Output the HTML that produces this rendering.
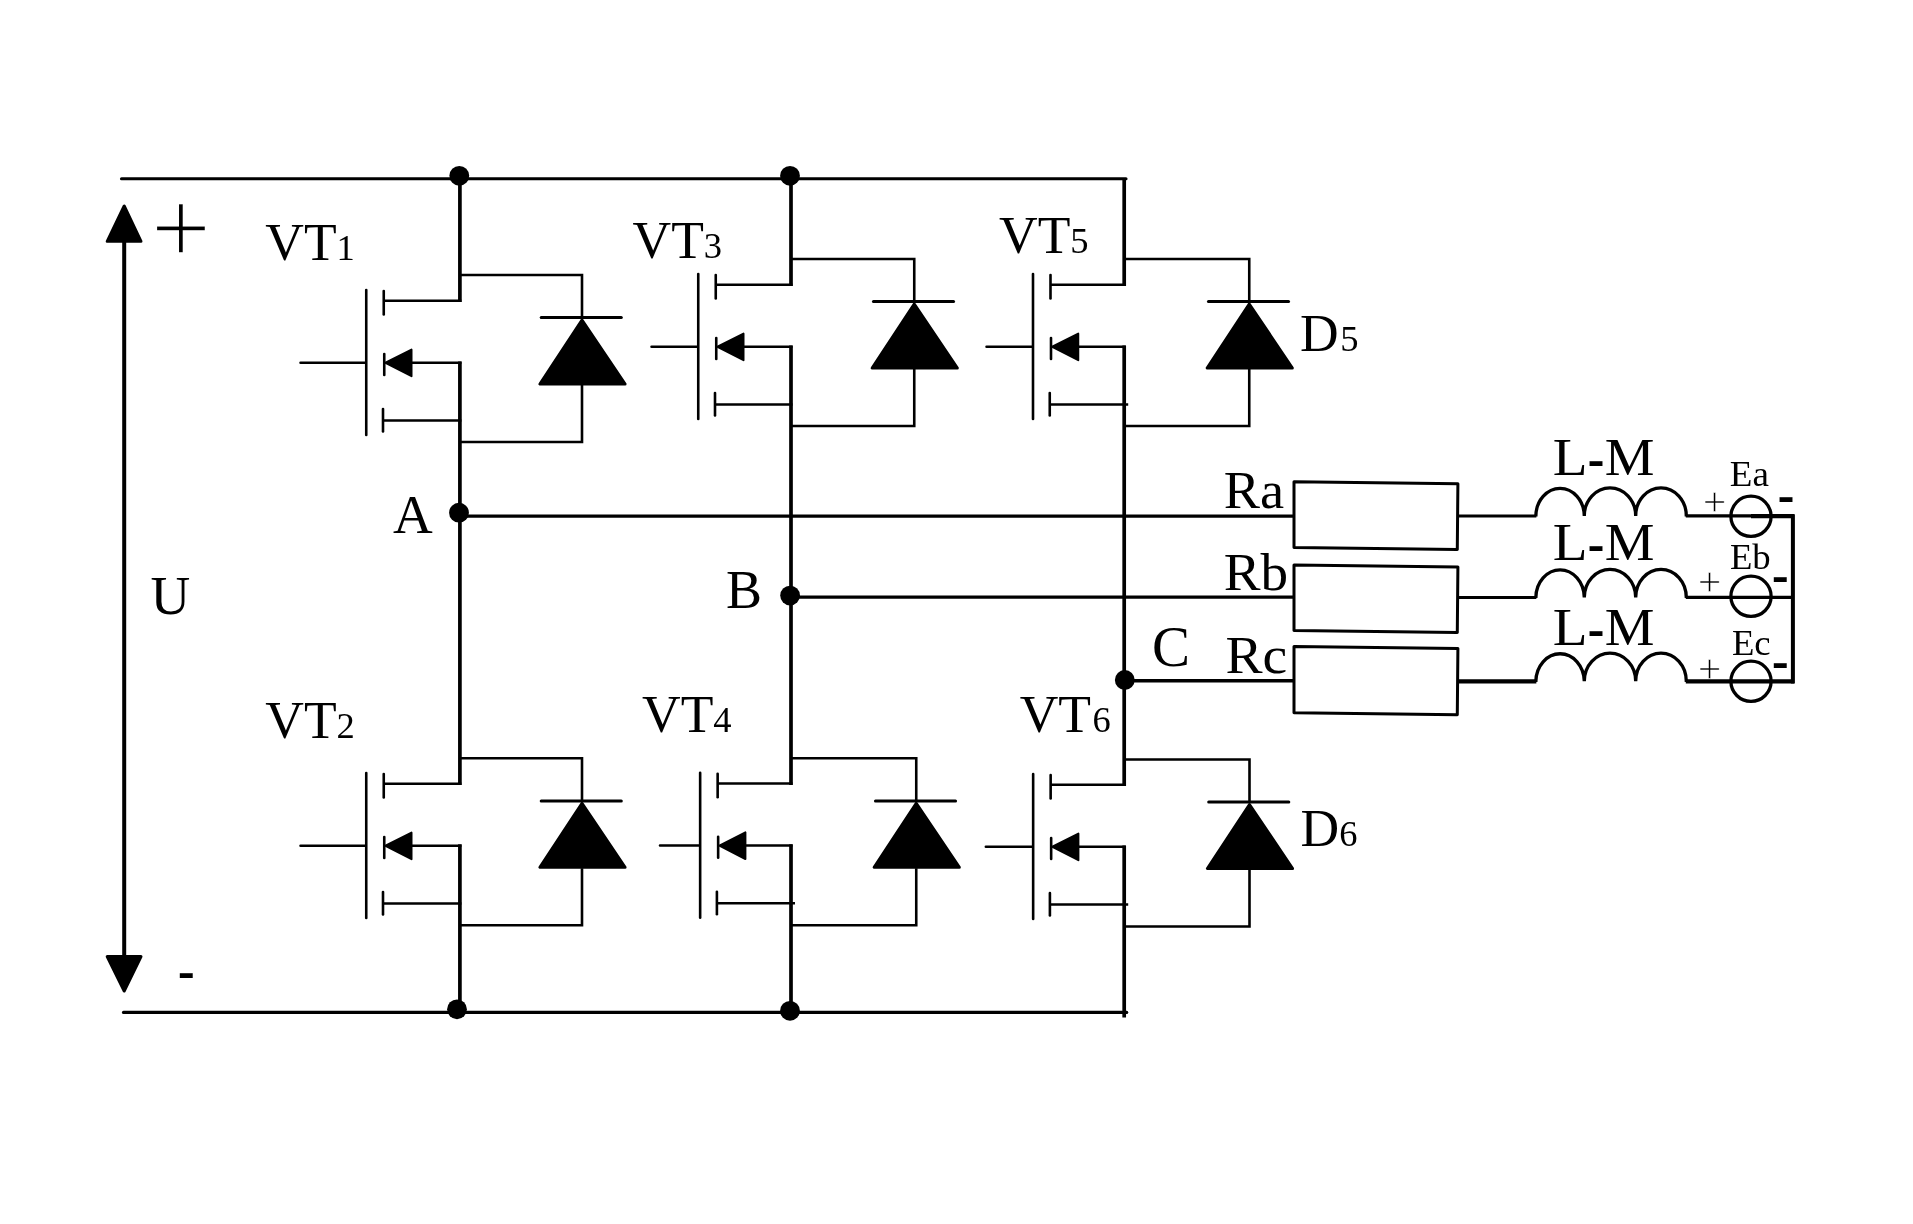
<!DOCTYPE html>
<html lang="en">
<head>
<meta charset="utf-8">
<title>Three-phase inverter circuit</title>
<style>
html,body{margin:0;padding:0;background:#fff;}
body{width:1913px;height:1224px;overflow:hidden;}
svg{display:block;will-change:transform;}
</style>
</head>
<body>
<svg width="1913" height="1224" viewBox="0 0 1913 1224">
<rect width="1913" height="1224" fill="#fff"/>
<g stroke="#000" fill="none">
<g transform="translate(0,0)">
<line x1="366.25" y1="290" x2="366.25" y2="435" stroke-width="2.6" stroke-linecap="round"/>
<line x1="300.5" y1="362.75" x2="365.5" y2="362.75" stroke-width="2.5" stroke-linecap="round"/>
<line x1="383.75" y1="291" x2="383.75" y2="314.5" stroke-width="2.6" stroke-linecap="round"/>
<line x1="383.75" y1="300.75" x2="461.4" y2="300.75" stroke-width="2.6" stroke-linecap="butt"/>
<line x1="384.25" y1="354" x2="384.25" y2="375" stroke-width="2.6" stroke-linecap="round"/>
<path d="M385.5 362.75 L411.5 349.6 L411.5 376.2 Z" fill="#000" stroke="#000" stroke-width="2" stroke-linejoin="round"/>
<line x1="411" y1="362.75" x2="461.4" y2="362.75" stroke-width="2.6" stroke-linecap="butt"/>
<line x1="383" y1="409" x2="383" y2="431.5" stroke-width="2.6" stroke-linecap="round"/>
<line x1="383" y1="420.5" x2="461.4" y2="420.5" stroke-width="2.5" stroke-linecap="butt"/>
</g>
<g transform="translate(0,0)">
<path d="M459.9 275 H582 V318 M582 385 V442 H459.9" fill="none" stroke-width="2.6" stroke-linejoin="miter"/>
<line x1="541.2" y1="317.6" x2="621.3" y2="317.6" stroke-width="3" stroke-linecap="round"/>
<path d="M582 320 L539.9 384 L625.1 384 Z" fill="#000" stroke="#000" stroke-width="3" stroke-linejoin="round"/>
</g>
<g transform="translate(332,-16)">
<line x1="366.25" y1="290" x2="366.25" y2="435" stroke-width="2.6" stroke-linecap="round"/>
<line x1="319.5" y1="362.75" x2="365.5" y2="362.75" stroke-width="2.5" stroke-linecap="round"/>
<line x1="383.75" y1="291" x2="383.75" y2="314.5" stroke-width="2.6" stroke-linecap="round"/>
<line x1="383.75" y1="300.75" x2="460.5" y2="300.75" stroke-width="2.6" stroke-linecap="butt"/>
<line x1="384.25" y1="354" x2="384.25" y2="375" stroke-width="2.6" stroke-linecap="round"/>
<path d="M385.5 362.75 L411.5 349.6 L411.5 376.2 Z" fill="#000" stroke="#000" stroke-width="2" stroke-linejoin="round"/>
<line x1="411" y1="362.75" x2="460.5" y2="362.75" stroke-width="2.6" stroke-linecap="butt"/>
<line x1="383" y1="409" x2="383" y2="431.5" stroke-width="2.6" stroke-linecap="round"/>
<line x1="383" y1="420.5" x2="460.5" y2="420.5" stroke-width="2.5" stroke-linecap="butt"/>
</g>
<g transform="translate(332.25,-16)">
<path d="M458.75 275 H582 V318 M582 385 V442 H458.75" fill="none" stroke-width="2.6" stroke-linejoin="miter"/>
<line x1="541.2" y1="317.6" x2="621.3" y2="317.6" stroke-width="3" stroke-linecap="round"/>
<path d="M582 320 L539.9 384 L625.1 384 Z" fill="#000" stroke="#000" stroke-width="3" stroke-linejoin="round"/>
</g>
<g transform="translate(666.75,-16)">
<line x1="366.25" y1="290" x2="366.25" y2="435" stroke-width="2.6" stroke-linecap="round"/>
<line x1="319.75" y1="362.75" x2="365.5" y2="362.75" stroke-width="2.5" stroke-linecap="round"/>
<line x1="383.75" y1="291" x2="383.75" y2="314.5" stroke-width="2.6" stroke-linecap="round"/>
<line x1="383.75" y1="300.75" x2="458.95000000000005" y2="300.75" stroke-width="2.6" stroke-linecap="butt"/>
<line x1="384.25" y1="354" x2="384.25" y2="375" stroke-width="2.6" stroke-linecap="round"/>
<path d="M385.5 362.75 L411.5 349.6 L411.5 376.2 Z" fill="#000" stroke="#000" stroke-width="2" stroke-linejoin="round"/>
<line x1="411" y1="362.75" x2="458.95000000000005" y2="362.75" stroke-width="2.6" stroke-linecap="butt"/>
<line x1="383" y1="409" x2="383" y2="431.5" stroke-width="2.6" stroke-linecap="round"/>
<line x1="383" y1="420.5" x2="461.45000000000005" y2="420.5" stroke-width="2.5" stroke-linecap="butt"/>
</g>
<g transform="translate(667.25,-16)">
<path d="M456.95000000000005 275 H582 V318 M582 385 V442 H456.95000000000005" fill="none" stroke-width="2.6" stroke-linejoin="miter"/>
<line x1="541.2" y1="317.6" x2="621.3" y2="317.6" stroke-width="3" stroke-linecap="round"/>
<path d="M582 320 L539.9 384 L625.1 384 Z" fill="#000" stroke="#000" stroke-width="3" stroke-linejoin="round"/>
</g>
<g transform="translate(0,483)">
<line x1="366.25" y1="290" x2="366.25" y2="435" stroke-width="2.6" stroke-linecap="round"/>
<line x1="300.5" y1="362.75" x2="365.5" y2="362.75" stroke-width="2.5" stroke-linecap="round"/>
<line x1="383.75" y1="291" x2="383.75" y2="314.5" stroke-width="2.6" stroke-linecap="round"/>
<line x1="383.75" y1="300.75" x2="461.4" y2="300.75" stroke-width="2.6" stroke-linecap="butt"/>
<line x1="384.25" y1="354" x2="384.25" y2="375" stroke-width="2.6" stroke-linecap="round"/>
<path d="M385.5 362.75 L411.5 349.6 L411.5 376.2 Z" fill="#000" stroke="#000" stroke-width="2" stroke-linejoin="round"/>
<line x1="411" y1="362.75" x2="461.4" y2="362.75" stroke-width="2.6" stroke-linecap="butt"/>
<line x1="383" y1="409" x2="383" y2="431.5" stroke-width="2.6" stroke-linecap="round"/>
<line x1="383" y1="420.5" x2="461.4" y2="420.5" stroke-width="2.5" stroke-linecap="butt"/>
</g>
<g transform="translate(0,483.3)">
<path d="M459.9 275 H582 V318 M582 385 V442 H459.9" fill="none" stroke-width="2.6" stroke-linejoin="miter"/>
<line x1="541.2" y1="317.6" x2="621.3" y2="317.6" stroke-width="3" stroke-linecap="round"/>
<path d="M582 320 L539.9 384 L625.1 384 Z" fill="#000" stroke="#000" stroke-width="3" stroke-linejoin="round"/>
</g>
<g transform="translate(333.9,482.8)">
<line x1="366.25" y1="290" x2="366.25" y2="435" stroke-width="2.6" stroke-linecap="round"/>
<line x1="326.1" y1="362.75" x2="365.5" y2="362.75" stroke-width="2.5" stroke-linecap="round"/>
<line x1="383.75" y1="291" x2="383.75" y2="314.5" stroke-width="2.6" stroke-linecap="round"/>
<line x1="383.75" y1="300.75" x2="458.6" y2="300.75" stroke-width="2.6" stroke-linecap="butt"/>
<line x1="384.25" y1="354" x2="384.25" y2="375" stroke-width="2.6" stroke-linecap="round"/>
<path d="M385.5 362.75 L411.5 349.6 L411.5 376.2 Z" fill="#000" stroke="#000" stroke-width="2" stroke-linejoin="round"/>
<line x1="411" y1="362.75" x2="458.6" y2="362.75" stroke-width="2.6" stroke-linecap="butt"/>
<line x1="383" y1="409" x2="383" y2="431.5" stroke-width="2.6" stroke-linecap="round"/>
<line x1="383" y1="420.5" x2="461.1" y2="420.5" stroke-width="2.5" stroke-linecap="butt"/>
</g>
<g transform="translate(334.25,483.3)">
<path d="M456.75 275 H582 V318 M582 385 V442 H456.75" fill="none" stroke-width="2.6" stroke-linejoin="miter"/>
<line x1="541.2" y1="317.6" x2="621.3" y2="317.6" stroke-width="3" stroke-linecap="round"/>
<path d="M582 320 L539.9 384 L625.1 384 Z" fill="#000" stroke="#000" stroke-width="3" stroke-linejoin="round"/>
</g>
<g transform="translate(666.9,484)">
<line x1="366.25" y1="290" x2="366.25" y2="435" stroke-width="2.6" stroke-linecap="round"/>
<line x1="318.9" y1="362.75" x2="365.5" y2="362.75" stroke-width="2.5" stroke-linecap="round"/>
<line x1="383.75" y1="291" x2="383.75" y2="314.5" stroke-width="2.6" stroke-linecap="round"/>
<line x1="383.75" y1="300.75" x2="458.80000000000007" y2="300.75" stroke-width="2.6" stroke-linecap="butt"/>
<line x1="384.25" y1="354" x2="384.25" y2="375" stroke-width="2.6" stroke-linecap="round"/>
<path d="M385.5 362.75 L411.5 349.6 L411.5 376.2 Z" fill="#000" stroke="#000" stroke-width="2" stroke-linejoin="round"/>
<line x1="411" y1="362.75" x2="458.80000000000007" y2="362.75" stroke-width="2.6" stroke-linecap="butt"/>
<line x1="383" y1="409" x2="383" y2="431.5" stroke-width="2.6" stroke-linecap="round"/>
<line x1="383" y1="420.5" x2="461.30000000000007" y2="420.5" stroke-width="2.5" stroke-linecap="butt"/>
</g>
<g transform="translate(667.5,484.5)">
<path d="M456.70000000000005 275 H582 V318 M582 385 V442 H456.70000000000005" fill="none" stroke-width="2.6" stroke-linejoin="miter"/>
<line x1="541.2" y1="317.6" x2="621.3" y2="317.6" stroke-width="3" stroke-linecap="round"/>
<path d="M582 320 L539.9 384 L625.1 384 Z" fill="#000" stroke="#000" stroke-width="3" stroke-linejoin="round"/>
</g>
<line x1="121.5" y1="178.7" x2="1126" y2="178.7" stroke-width="3.1" stroke-linecap="round"/>
<line x1="123.5" y1="1012.4" x2="1126.7" y2="1012.4" stroke-width="3.2" stroke-linecap="round"/>
<line x1="459.9" y1="176" x2="459.9" y2="302" stroke-width="3.7" stroke-linecap="butt"/>
<line x1="459.9" y1="361.5" x2="459.9" y2="785" stroke-width="3.7" stroke-linecap="butt"/>
<line x1="459.9" y1="844.3" x2="459.9" y2="1010" stroke-width="3.7" stroke-linecap="butt"/>
<line x1="791.0" y1="176" x2="791.0" y2="286" stroke-width="3.7" stroke-linecap="butt"/>
<line x1="791.0" y1="345.5" x2="791.0" y2="785" stroke-width="3.7" stroke-linecap="butt"/>
<line x1="791.0" y1="844.3" x2="791.0" y2="1011" stroke-width="3.7" stroke-linecap="butt"/>
<line x1="1124.2" y1="178" x2="1124.2" y2="286" stroke-width="3.7" stroke-linecap="butt"/>
<line x1="1124.2" y1="345.5" x2="1124.2" y2="786" stroke-width="3.7" stroke-linecap="butt"/>
<line x1="1124.2" y1="845.5" x2="1124.2" y2="1017.5" stroke-width="3.7" stroke-linecap="butt"/>
<line x1="459" y1="516.1" x2="1294" y2="516.1" stroke-width="3.4" stroke-linecap="butt"/>
<line x1="790" y1="597.1" x2="1294" y2="597.1" stroke-width="3.3" stroke-linecap="butt"/>
<line x1="1124" y1="680.7" x2="1294" y2="680.7" stroke-width="3.4" stroke-linecap="butt"/>
<path d="M1294.0 481.8 L1457.9 483.8 L1457.3000000000002 549.4 L1294.0 547.4 Z" stroke-width="3" stroke-linejoin="round"/>
<path d="M1294.0 565.0 L1457.9 567.0 L1457.3000000000002 632.5 L1294.0 630.5 Z" stroke-width="3" stroke-linejoin="round"/>
<path d="M1294.0 646.6 L1457.9 648.6 L1457.3000000000002 714.8000000000001 L1294.0 712.8000000000001 Z" stroke-width="3" stroke-linejoin="round"/>
<line x1="1458" y1="515.9" x2="1536.35" y2="515.9" stroke-width="3" stroke-linecap="butt"/>
<path d="M1535.85 516.5 V515.9 a24.23 28.1 0 0 1 48.45 0 a25.70 28.1 0 0 1 51.40 0 a25.30 28.1 0 0 1 50.60 0 v0.6" stroke-width="3.3" stroke-linejoin="miter" stroke-miterlimit="10"/>
<line x1="1685.8" y1="515.9" x2="1794" y2="515.9" stroke-width="3.3" stroke-linecap="butt"/>
<line x1="1751" y1="516.1" x2="1794" y2="516.1" stroke-width="4.2" stroke-linecap="butt"/>
<line x1="1458" y1="597.4" x2="1536.35" y2="597.4" stroke-width="3" stroke-linecap="butt"/>
<path d="M1535.85 598.0 V597.4 a24.23 28.1 0 0 1 48.45 0 a25.70 28.1 0 0 1 51.40 0 a25.30 28.1 0 0 1 50.60 0 v0.6" stroke-width="3.3" stroke-linejoin="miter" stroke-miterlimit="10"/>
<line x1="1685.8" y1="597.4" x2="1794" y2="597.4" stroke-width="3.1" stroke-linecap="butt"/>
<line x1="1458" y1="681.3" x2="1536.35" y2="681.3" stroke-width="4.2" stroke-linecap="butt"/>
<path d="M1535.85 681.9 V681.3 a24.23 28.1 0 0 1 48.45 0 a25.70 28.1 0 0 1 51.40 0 a25.30 28.1 0 0 1 50.60 0 v0.6" stroke-width="3.3" stroke-linejoin="miter" stroke-miterlimit="10"/>
<line x1="1685.8" y1="681.3" x2="1794" y2="681.3" stroke-width="4.2" stroke-linecap="butt"/>
<circle cx="1751" cy="516.3" r="20.1" stroke-width="3.3"/>
<circle cx="1751" cy="596.3" r="20.1" stroke-width="3.3"/>
<circle cx="1751" cy="681.3" r="20.1" stroke-width="3.3"/>
<line x1="1792.9" y1="514.3" x2="1792.9" y2="683.4" stroke-width="4" stroke-linecap="butt"/>
<line x1="124.2" y1="240" x2="124.2" y2="958" stroke-width="4" stroke-linecap="butt"/>
<path d="M124.2 206 L107.2 241.3 L141 241.3 Z" fill="#000" stroke-width="3" stroke-linejoin="round"/>
<path d="M124.2 991 L107.2 956.5 L141 956.5 Z" fill="#000" stroke-width="3" stroke-linejoin="round"/>
</g>
<g fill="#000">
<circle cx="459.3" cy="175.8" r="9.9"/>
<circle cx="790" cy="175.8" r="9.9"/>
<circle cx="459.0" cy="512.65" r="9.9"/>
<circle cx="790.1" cy="595.6" r="9.9"/>
<circle cx="1124.8" cy="680" r="9.9"/>
<circle cx="457" cy="1009.3" r="9.9"/>
<circle cx="790" cy="1010.8" r="9.9"/>
</g>
<g fill="#000">
<text x="265.25" y="259.70" style="font-family:'Liberation Serif',serif;font-size:53.5px">VT<tspan font-size="36.5">1</tspan></text>
<text x="632.50" y="257.60" style="font-family:'Liberation Serif',serif;font-size:53.5px">VT<tspan font-size="36.5">3</tspan></text>
<text x="999.00" y="253.40" style="font-family:'Liberation Serif',serif;font-size:53.5px">VT<tspan font-size="36.5">5</tspan></text>
<text x="265.25" y="737.60" style="font-family:'Liberation Serif',serif;font-size:53.5px">VT<tspan font-size="36.5">2</tspan></text>
<text x="642.00" y="732.00" style="font-family:'Liberation Serif',serif;font-size:53.5px">VT<tspan font-size="36.5">4</tspan></text>
<text x="1019.70" y="732.40" style="font-family:'Liberation Serif',serif;font-size:53.5px">VT<tspan dx="1.5" font-size="36.5">6</tspan></text>
<text x="1300.00" y="351.25" style="font-family:'Liberation Serif',serif;font-size:53.5px">D<tspan dx="1.5" font-size="36.5">5</tspan></text>
<text x="1300.50" y="846.00" style="font-family:'Liberation Serif',serif;font-size:53.5px">D<tspan font-size="36.5">6</tspan></text>
<text x="393.00" y="533.00" style="font-family:'Liberation Serif',serif;font-size:55px">A</text>
<text x="726.00" y="607.80" style="font-family:'Liberation Serif',serif;font-size:54px">B</text>
<text x="1151.90" y="666.00" style="font-family:'Liberation Serif',serif;font-size:57px">C</text>
<text transform="translate(1223.66 508.25) scale(1.035 1)" style="font-family:'Liberation Serif',serif;font-size:52.5px">Ra</text>
<text transform="translate(1223.65 590.00) scale(1.05 1)" style="font-family:'Liberation Serif',serif;font-size:52.5px">Rb</text>
<text transform="translate(1225.44 673.00) scale(1.06 1)" style="font-family:'Liberation Serif',serif;font-size:52.5px">Rc</text>
<text transform="translate(1552.87 475.40) scale(1.065 1)" style="font-family:'Liberation Serif',serif;font-size:53.5px">L</text>
<text transform="translate(1604.81 475.40) scale(1.045 1)" style="font-family:'Liberation Serif',serif;font-size:53.5px">M</text>
<text transform="translate(1552.87 560.40) scale(1.065 1)" style="font-family:'Liberation Serif',serif;font-size:53.5px">L</text>
<text transform="translate(1604.81 560.40) scale(1.045 1)" style="font-family:'Liberation Serif',serif;font-size:53.5px">M</text>
<text transform="translate(1552.87 644.90) scale(1.065 1)" style="font-family:'Liberation Serif',serif;font-size:53.5px">L</text>
<text transform="translate(1604.81 644.90) scale(1.045 1)" style="font-family:'Liberation Serif',serif;font-size:53.5px">M</text>
<text transform="translate(1729.87 485.60) scale(1.03 1)" style="font-family:'Liberation Serif',serif;font-size:36px">Ea</text>
<text transform="translate(1729.88 569.35) scale(1.02 1)" style="font-family:'Liberation Serif',serif;font-size:36px">Eb</text>
<text transform="translate(1731.88 655.10) scale(1.02 1)" style="font-family:'Liberation Serif',serif;font-size:36px">Ec</text>
<text x="150.50" y="614.30" style="font-family:'Liberation Serif',serif;font-size:55px">U</text>
<text x="151.00" y="264.00" style="font-family:'Liberation Serif',serif;font-size:106px" stroke="#fff" stroke-width="1.6">+</text>
<text x="1702.90" y="515.30" style="font-family:'Liberation Serif',serif;font-size:41px" stroke="#fff" stroke-width="0.45">+</text>
<text x="1697.90" y="595.30" style="font-family:'Liberation Serif',serif;font-size:41px" stroke="#fff" stroke-width="0.45">+</text>
<text x="1697.90" y="681.80" style="font-family:'Liberation Serif',serif;font-size:41px" stroke="#fff" stroke-width="0.45">+</text>
<text transform="translate(177.50 985.21) scale(1.03 0.83)" style="font-family:'DejaVu Sans',sans-serif;font-weight:bold;font-size:41px">-</text>
<text transform="translate(1777.34 509.46) scale(1.03 0.83)" style="font-family:'DejaVu Sans',sans-serif;font-weight:bold;font-size:41px">-</text>
<text transform="translate(1771.49 589.06) scale(1.03 0.83)" style="font-family:'DejaVu Sans',sans-serif;font-weight:bold;font-size:41px">-</text>
<text transform="translate(1771.49 675.36) scale(1.03 0.83)" style="font-family:'DejaVu Sans',sans-serif;font-weight:bold;font-size:41px">-</text>
<text transform="translate(1587.34 473.36) scale(1.03 0.83)" style="font-family:'DejaVu Sans',sans-serif;font-weight:bold;font-size:41px">-</text>
<text transform="translate(1587.34 558.36) scale(1.03 0.83)" style="font-family:'DejaVu Sans',sans-serif;font-weight:bold;font-size:41px">-</text>
<text transform="translate(1587.34 642.86) scale(1.03 0.83)" style="font-family:'DejaVu Sans',sans-serif;font-weight:bold;font-size:41px">-</text>
</g>
</svg>
</body>
</html>
